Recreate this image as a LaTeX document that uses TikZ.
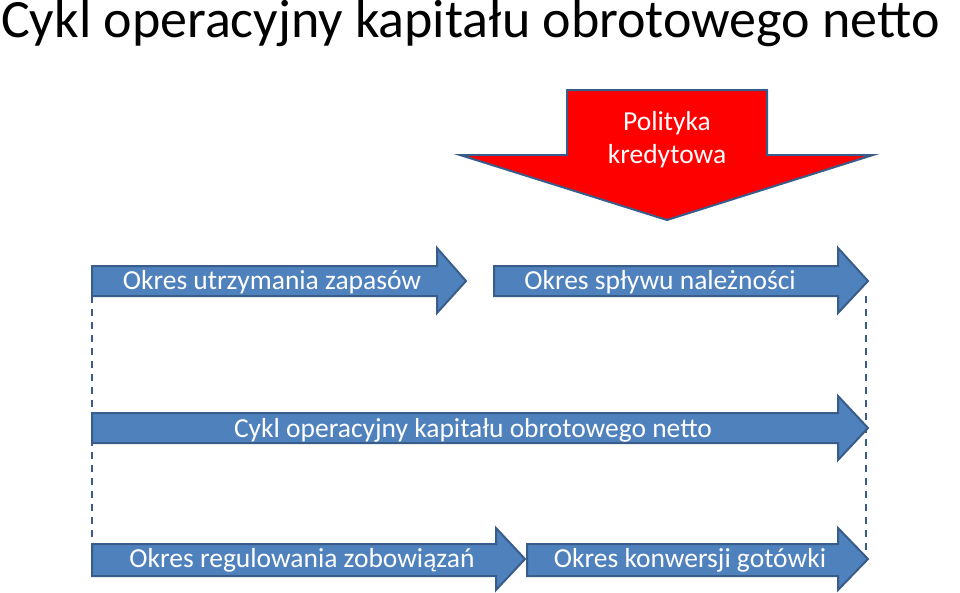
\documentclass[tikz,border=0pt]{standalone}
\usepackage{fontspec}
\setmainfont{Carlito}
\definecolor{fillb}{HTML}{4F81BD}
\definecolor{edgeb}{HTML}{385D8A}
\begin{document}
\begin{tikzpicture}[x=1pt,y=-1pt,
  barrow/.style={fill=fillb,draw=edgeb,line width=2pt,line join=miter},
  lbl/.style={text=white,font=\fontsize{27.5}{30}\selectfont,inner sep=0pt},
  guide/.style={draw=edgeb,line width=2pt,dash pattern=on 7pt off 6pt}]
\useasboundingbox (0,0) rectangle (960,592);
\node[anchor=base west,inner sep=0pt,font=\fontsize{54}{58}\selectfont] (title) at (1,37) {Cykl operacyjny kapitału obrotowego netto};
% red arrow
\draw[fill=red,draw=edgeb,line width=2pt] (567,90) -- (767,90) -- (767,155) -- (873,155) -- (667,220) -- (460,155) -- (567,155) -- cycle;
\node[lbl,align=center,text width=180pt,font=\fontsize{27.5}{33}\selectfont] (pol) at (667,140) {Polityka\\kredytowa};
% dashed guides
\draw[guide] (92,296) -- (92,544);
\draw[guide] (866,296) -- (866,560);
% row 1
\draw[barrow] (92,266) -- (437,266) -- (437,248) -- (466,281) -- (437,313) -- (437,296) -- (92,296) -- cycle;
\node[lbl] (a1) at (272,282) {Okres utrzymania zapasów};
\draw[barrow] (494,266) -- (838,266) -- (838,248) -- (868,281) -- (838,313) -- (838,296) -- (494,296) -- cycle;
\node[lbl] (a2) at (660,282) {Okres spływu należności};
% row 2
\draw[barrow] (92,413) -- (838,413) -- (838,396) -- (868,428) -- (838,460) -- (838,443) -- (92,443) -- cycle;
\node[lbl] (a3) at (473,430) {Cykl operacyjny kapitału obrotowego netto};
% row 3
\draw[barrow] (92,544) -- (496,544) -- (496,528) -- (525,559) -- (496,590) -- (496,576) -- (92,576) -- cycle;
\node[lbl] (a4) at (302,560) {Okres regulowania zobowiązań};
\draw[barrow] (527,544) -- (838,544) -- (838,528) -- (868,559) -- (838,590) -- (838,576) -- (527,576) -- cycle;
\node[lbl] (a5) at (690,560) {Okres konwersji gotówki};
\end{tikzpicture}
\end{document}
